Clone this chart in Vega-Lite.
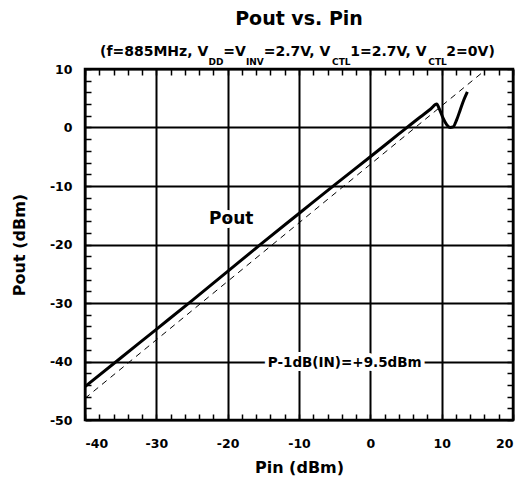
{
  "$schema": "https://vega.github.io/schema/vega-lite/v6.json",
  "width": 428,
  "height": 351,
  "autosize": {"type": "none"},
  "padding": {"left": 85, "top": 69, "right": 15, "bottom": 65},
  "background": "white",
  "config": {
    "view": {"stroke": "black", "strokeWidth": 2.5},
    "font": "DejaVu Sans",
    "axis": {
      "labelFont": "DejaVu Sans", "labelFontWeight": "bold", "labelFontSize": 12.5, "labelColor": "black",
      "titleFont": "DejaVu Sans", "titleFontWeight": "bold", "titleFontSize": 16, "titleColor": "black",
      "domain": false, "ticks": true, "tickColor": "black", "tickWidth": 1.5, "tickSize": -6, "tickOpacity": 1,
      "gridColor": "black", "gridWidth": 2
    }
  },
  "title": {
    "text": "Pout vs. Pin", "fontSize": 19, "font": "DejaVu Sans", "fontWeight": "bold",
    "color": "black", "anchor": "middle", "frame": "group", "baseline": "middle", "offset": 7
  },
  "datasets": {
    "ideal": [{"pin": -40, "pout": -46.3}, {"pin": 15.8, "pout": 9.5}],
    "pout": [
      {"pin": -40, "pout": -44.3}, {"pin": -35, "pout": -39.4}, {"pin": -30, "pout": -34.5},
      {"pin": -25, "pout": -29.6}, {"pin": -20, "pout": -24.6}, {"pin": -15, "pout": -19.6},
      {"pin": -10, "pout": -14.7}, {"pin": -5, "pout": -9.8}, {"pin": 0, "pout": -5.0},
      {"pin": 4, "pout": -1.1}, {"pin": 7, "pout": 1.8}, {"pin": 8.5, "pout": 3.2},
      {"pin": 9.3, "pout": 4.0}, {"pin": 9.7, "pout": 3.1}, {"pin": 10.2, "pout": 1.6},
      {"pin": 10.7, "pout": 0.5}, {"pin": 11.2, "pout": 0.0}, {"pin": 11.6, "pout": 0.1},
      {"pin": 12.1, "pout": 1.3}, {"pin": 12.6, "pout": 3.0}, {"pin": 13.1, "pout": 4.7},
      {"pin": 13.6, "pout": 6.1}
    ],
    "notes": [
      {"pin": -19.5, "pout": -15.6, "text": "Pout", "kind": "big"},
      {"pin": -3.6, "pout": -40.2, "text": "P-1dB(IN)=+9.5dBm", "kind": "small"}
    ],
    "subMain": [
      {"pin": -37.9, "text": "(f=885MHz, V"}, {"pin": -20.61, "text": "=V"},
      {"pin": -14.95, "text": "=2.7V, V"}, {"pin": -2.82, "text": "1=2.7V, V"},
      {"pin": 10.66, "text": "2=0V)"}
    ],
    "subSub": [
      {"pin": -22.7, "text": "DD"}, {"pin": -17.44, "text": "INV"},
      {"pin": -5.36, "text": "CTL"}, {"pin": 8.13, "text": "CTL"}
    ]
  },
  "layer": [
    {
      "data": {"name": "ideal"},
      "mark": {"type": "line", "color": "black", "strokeWidth": 1, "strokeDash": [6, 5]},
      "encoding": {
        "x": {"field": "pin", "type": "quantitative",
          "scale": {"domain": [-40, 20], "nice": false, "zero": false},
          "axis": {"orient": "bottom",
            "values": [-40,-38,-36,-34,-32,-30,-28,-26,-24,-22,-20,-18,-16,-14,-12,-10,-8,-6,-4,-2,0,2,4,6,8,10,12,14,16,18,20],
            "labelExpr": "datum.value % 10 === 0 ? '' + datum.value : ''",
            "grid": true, "ticks": true, "tickSize": -6,
            "gridOpacity": {"condition": {"test": "datum.value % 10 === 0", "value": 1}, "value": 0},
            "labelPadding": 23, "title": "Pin (dBm)", "titlePadding": 10}},
        "y": {"field": "pout", "type": "quantitative",
          "scale": {"domain": [-50, 10], "nice": false, "zero": false},
          "axis": {"orient": "left",
            "values": [-50,-48,-46,-44,-42,-40,-38,-36,-34,-32,-30,-28,-26,-24,-22,-20,-18,-16,-14,-12,-10,-8,-6,-4,-2,0,2,4,6,8,10],
            "labelExpr": "datum.value % 10 === 0 ? '' + datum.value : ''",
            "grid": true, "ticks": true, "tickSize": -6,
            "gridOpacity": {"condition": {"test": "datum.value % 10 === 0", "value": 1}, "value": 0},
            "labelPadding": 19, "title": "Pout (dBm)", "titlePadding": 22}}
      }
    },
    {
      "data": {"name": "pout"},
      "mark": {"type": "line", "color": "black", "strokeWidth": 3, "interpolate": "monotone"},
      "encoding": {
        "x": {"field": "pin", "type": "quantitative",
          "scale": {"domain": [-40, 20], "nice": false, "zero": false},
          "axis": {"orient": "top",
            "values": [-40,-38,-36,-34,-32,-30,-28,-26,-24,-22,-20,-18,-16,-14,-12,-10,-8,-6,-4,-2,0,2,4,6,8,10,12,14,16,18,20],
            "labels": false, "grid": false, "ticks": true, "tickSize": -6, "title": null}},
        "y": {"field": "pout", "type": "quantitative",
          "scale": {"domain": [-50, 10], "nice": false, "zero": false},
          "axis": {"orient": "right",
            "values": [-50,-48,-46,-44,-42,-40,-38,-36,-34,-32,-30,-28,-26,-24,-22,-20,-18,-16,-14,-12,-10,-8,-6,-4,-2,0,2,4,6,8,10],
            "labels": false, "grid": false, "ticks": true, "tickSize": -6, "title": null}}
      }
    },
    {
      "mark": {"type": "rule", "color": "#888888", "strokeWidth": 1.5, "strokeDash": [5, 3]},
      "encoding": {"x": {"datum": 9.5, "type": "quantitative", "axis": null}}
    },
    {
      "data": {"name": "notes"},
      "transform": [{"filter": "datum.kind === 'big'"}],
      "mark": {"type": "text", "fontSize": 17, "fontWeight": "bold", "font": "DejaVu Sans", "fill": "white", "stroke": "white", "strokeWidth": 8, "align": "center", "baseline": "middle"},
      "encoding": {"x": {"field": "pin", "type": "quantitative", "axis": null}, "y": {"field": "pout", "type": "quantitative", "axis": null}, "text": {"field": "text"}}
    },
    {
      "data": {"name": "notes"},
      "transform": [{"filter": "datum.kind === 'big'"}],
      "mark": {"type": "text", "fontSize": 17, "fontWeight": "bold", "font": "DejaVu Sans", "color": "black", "align": "center", "baseline": "middle"},
      "encoding": {"x": {"field": "pin", "type": "quantitative", "axis": null}, "y": {"field": "pout", "type": "quantitative", "axis": null}, "text": {"field": "text"}}
    },
    {
      "data": {"name": "notes"},
      "transform": [{"filter": "datum.kind === 'small'"}],
      "mark": {"type": "text", "fontSize": 13.5, "fontWeight": "bold", "font": "DejaVu Sans", "fill": "white", "stroke": "white", "strokeWidth": 8, "align": "center", "baseline": "middle"},
      "encoding": {"x": {"field": "pin", "type": "quantitative", "axis": null}, "y": {"field": "pout", "type": "quantitative", "axis": null}, "text": {"field": "text"}}
    },
    {
      "data": {"name": "notes"},
      "transform": [{"filter": "datum.kind === 'small'"}],
      "mark": {"type": "text", "fontSize": 13.5, "fontWeight": "bold", "font": "DejaVu Sans", "color": "black", "align": "center", "baseline": "middle"},
      "encoding": {"x": {"field": "pin", "type": "quantitative", "axis": null}, "y": {"field": "pout", "type": "quantitative", "axis": null}, "text": {"field": "text"}}
    },
    {
      "data": {"name": "subMain"},
      "mark": {"type": "text", "fontSize": 14, "fontWeight": "bold", "font": "DejaVu Sans", "color": "black", "align": "left", "baseline": "alphabetic"},
      "encoding": {"x": {"field": "pin", "type": "quantitative", "axis": null}, "y": {"datum": 12.22, "type": "quantitative", "axis": null}, "text": {"field": "text"}}
    },
    {
      "data": {"name": "subSub"},
      "mark": {"type": "text", "fontSize": 9, "fontWeight": "bold", "font": "DejaVu Sans", "color": "black", "align": "left", "baseline": "alphabetic"},
      "encoding": {"x": {"field": "pin", "type": "quantitative", "axis": null}, "y": {"datum": 10.68, "type": "quantitative", "axis": null}, "text": {"field": "text"}}
    }
  ],
  "resolve": {"axis": {"x": "independent", "y": "independent"}}
}
